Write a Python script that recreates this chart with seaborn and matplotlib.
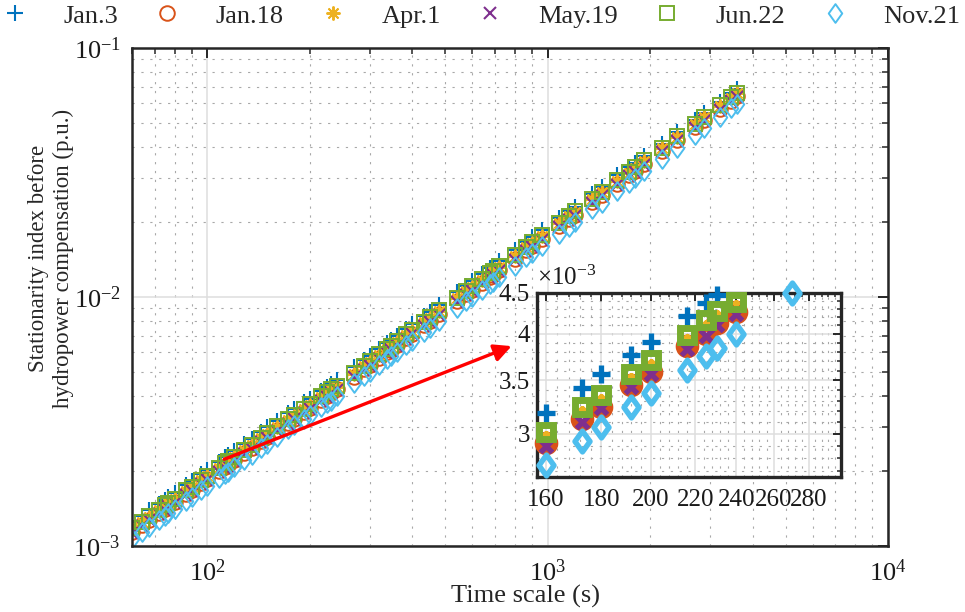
import numpy as np
import pandas as pd
import matplotlib
matplotlib.use("Agg")
import matplotlib.pyplot as plt
import seaborn as sns
from matplotlib.path import Path
from matplotlib.ticker import (LogLocator, FixedLocator, FixedFormatter,
                               MultipleLocator, NullFormatter)

# ---------------- data ----------------
time_scale = [60, 64, 67.5, 72, 75, 76.8, 80, 86.4, 90, 96,
              100, 108, 112.5, 115.2, 120, 128, 135, 144, 150, 160,
              172.8, 180, 192, 200, 216, 225, 230.4, 240, 270, 288,
              300, 320, 337.5, 345.6, 360, 384, 400, 432, 450, 480,
              540, 576, 600, 640, 675, 691.2, 720, 800, 864, 900,
              960, 1080, 1152, 1200, 1350, 1440, 1600, 1728, 1800, 1920,
              2160, 2400, 2700, 2880, 3200, 3456, 3600]

# values in units of 1e-3 p.u.
jan3 = [1.243, 1.319, 1.391, 1.476, 1.537, 1.574, 1.631, 1.761, 1.825, 1.947,
        2.017, 2.178, 2.268, 2.311, 2.407, 2.567, 2.692, 2.872, 2.992, 3.19,
        3.42, 3.56, 3.77, 3.91, 4.21, 4.37, 4.48, 4.64, 5.22, 5.59,
        5.82, 6.21, 6.55, 6.70, 6.99, 7.46, 7.76, 8.38, 8.73, 9.31,
        10.43, 11.12, 11.59, 12.36, 13.04, 13.35, 13.91, 15.45, 16.69, 17.38,
        18.54, 20.76, 22.15, 23.07, 25.95, 27.68, 30.76, 33.22, 34.60, 36.91,
        41.33, 45.92, 51.42, 54.85, 60.95, 65.83, 68.57]
jan18 = [1.140, 1.210, 1.276, 1.354, 1.410, 1.444, 1.496, 1.616, 1.674, 1.786,
         1.850, 1.998, 2.081, 2.120, 2.208, 2.355, 2.470, 2.635, 2.745, 2.92,
         3.13, 3.24, 3.45, 3.59, 3.86, 4.00, 4.13, 4.26, 4.79, 5.13,
         5.34, 5.70, 6.01, 6.15, 6.41, 6.84, 7.12, 7.69, 8.01, 8.54,
         9.61, 10.25, 10.68, 11.39, 12.02, 12.30, 12.82, 14.24, 15.38, 16.02,
         17.09, 19.22, 20.51, 21.36, 24.03, 25.63, 28.48, 30.76, 32.04, 34.18,
         38.45, 42.72, 48.06, 51.26, 56.96, 61.52, 64.08]
apr1 = [1.172, 1.244, 1.312, 1.392, 1.449, 1.484, 1.538, 1.661, 1.721, 1.836,
        1.902, 2.054, 2.139, 2.179, 2.270, 2.421, 2.539, 2.709, 2.822, 3.00,
        3.22, 3.34, 3.54, 3.69, 3.97, 4.13, 4.25, 4.37, 4.92, 5.27,
        5.49, 5.86, 6.18, 6.32, 6.59, 7.03, 7.32, 7.91, 8.23, 8.78,
        9.88, 10.54, 10.98, 11.71, 12.36, 12.64, 13.18, 14.64, 15.81, 16.47,
        17.57, 19.76, 21.08, 21.96, 24.70, 26.35, 29.28, 31.62, 32.94, 35.14,
        39.53, 43.92, 49.41, 52.70, 58.56, 63.24, 65.87]
may19 = [1.132, 1.202, 1.267, 1.345, 1.400, 1.434, 1.486, 1.605, 1.662, 1.773,
         1.837, 1.984, 2.066, 2.105, 2.193, 2.339, 2.453, 2.617, 2.726, 2.90,
         3.10, 3.23, 3.43, 3.56, 3.83, 3.98, 4.10, 4.24, 4.76, 5.09,
         5.30, 5.66, 5.97, 6.11, 6.37, 6.79, 7.07, 7.64, 7.95, 8.48,
         9.54, 10.18, 10.61, 11.31, 11.94, 12.21, 12.73, 14.14, 15.27, 15.91,
         16.97, 19.09, 20.37, 21.21, 23.86, 25.45, 28.28, 30.54, 31.82, 33.94,
         38.18, 42.42, 47.72, 50.90, 56.56, 61.09, 63.63]
jun22 = [1.179, 1.251, 1.319, 1.400, 1.458, 1.493, 1.547, 1.671, 1.731, 1.847,
         1.913, 2.066, 2.152, 2.192, 2.283, 2.435, 2.554, 2.725, 2.838, 3.02,
         3.24, 3.36, 3.56, 3.71, 3.99, 4.16, 4.27, 4.39, 4.95, 5.30,
         5.52, 5.89, 6.21, 6.36, 6.63, 7.07, 7.36, 7.95, 8.28, 8.83,
         9.94, 10.60, 11.04, 11.78, 12.43, 12.72, 13.26, 14.72, 15.90, 16.56,
         17.67, 19.87, 21.21, 22.09, 24.85, 26.50, 29.45, 31.81, 33.13, 35.34,
         39.76, 44.17, 49.69, 53.00, 58.90, 63.61, 66.26]
nov21 = [1.069, 1.135, 1.197, 1.270, 1.323, 1.354, 1.403, 1.516, 1.570, 1.675,
         1.735, 1.874, 1.952, 1.989, 2.071, 2.209, 2.317, 2.472, 2.575, 2.74,
         2.94, 3.06, 3.24, 3.37, 3.61, 3.75, 3.84, 4.00, 4.50, 4.81,
         5.01, 5.35, 5.64, 5.77, 6.01, 6.42, 6.68, 7.21, 7.51, 8.01,
         9.01, 9.61, 10.02, 10.68, 11.27, 11.54, 12.03, 13.36, 14.43, 15.03,
         16.03, 17.97, 19.18, 19.97, 22.47, 23.96, 26.63, 28.76, 29.96, 31.96,
         35.76, 39.73, 44.70, 47.67, 52.97, 57.21, 59.59]

series_names = ["Jan.3", "Jan.18", "Apr.1", "May.19", "Jun.22", "Nov.21"]
series_vals = [jan3, jan18, apr1, may19, jun22, nov21]
colors = ["#0072BD", "#D95319", "#EDB120", "#7E2F8E", "#77AC30", "#4DBEEE"]

inset_xticks = [160, 180, 200, 220, 240, 260, 280]
inset_yticks = [3.0, 3.5, 4.0, 4.5]
arrow_start = (112, 2.23e-3)
arrow_end = (783, 6.35e-3)

df = pd.concat([pd.DataFrame({"t": time_scale,
                              "v": np.array(v) * 1e-3,
                              "date": n})
                for n, v in zip(series_names, series_vals)],
               ignore_index=True)

# ---------------- style ----------------
sns.set_theme(style="white")
plt.rcParams["font.family"] = ["Liberation Serif", "DejaVu Serif"]
plt.rcParams["mathtext.fontset"] = "custom"
plt.rcParams["mathtext.rm"] = "Liberation Serif"
plt.rcParams["mathtext.it"] = "Liberation Serif:italic"
plt.rcParams["axes.unicode_minus"] = True

diamond = Path([(0, 1), (0.72, 0), (0, -1), (-0.72, 0), (0, 1)],
               [Path.MOVETO, Path.LINETO, Path.LINETO, Path.LINETO, Path.CLOSEPOLY])
asterisk = (8, 2, 0)
markers = ["+", "o", asterisk, "x", "s", diamond]
main_ms = [12, 10.5, 10, 8, 9.8, 13.5]
main_mew = [1.5, 1.4, 1.4, 1.5, 1.4, 1.4]
ins_ms = [12.5, 10.5, 4, 9, 10, 15]
ins_mew = [3.8, 6.5, 2.8, 3.8, 5.0, 3.9]

fs = 19
spine_c = "#262626"
fig = plt.figure(figsize=(9.65, 6.12), dpi=100)
ax = fig.add_axes([132 / 965, 1 - 546 / 612, (888 - 132) / 965, (546 - 48) / 612])


def style_axes(a, lw):
    for s in a.spines.values():
        s.set_visible(True)
        s.set_color(spine_c)
        s.set_linewidth(lw)
    a.tick_params(which="both", direction="in", top=True, right=True,
                  color=spine_c, labelcolor="#1a1a1a")
    a.grid(True, which="major", color="#dedede", lw=1.1, ls="-")
    a.grid(True, which="minor", color="#a8a8a8", lw=0.8, ls=(0, (2, 6)))
    a.set_axisbelow(True)


for name, m, c, ms, mew in zip(series_names, markers, colors, main_ms, main_mew):
    sns.lineplot(data=df[df["date"] == name], x="t", y="v", ax=ax,
                 linestyle="none", marker=m, markersize=ms,
                 markerfacecolor="none", markeredgecolor=c,
                 markeredgewidth=mew, color=c, errorbar=None, legend=False)

ax.set_xscale("log")
ax.set_yscale("log")
ax.set_xlim(60, 1e4)
ax.set_ylim(1e-3, 1e-1)
ax.xaxis.set_major_locator(LogLocator(base=10, numticks=10))
ax.xaxis.set_minor_locator(LogLocator(base=10, subs=np.arange(2, 10), numticks=30))
ax.yaxis.set_minor_locator(LogLocator(base=10, subs=np.arange(2, 10), numticks=30))
ax.xaxis.set_minor_formatter(NullFormatter())
ax.yaxis.set_minor_formatter(NullFormatter())
style_axes(ax, 1.8)
ax.tick_params(which="major", length=7, width=1.4, labelsize=fs)
ax.tick_params(which="minor", length=4, width=1.1)
ax.tick_params(axis="x", which="major", pad=10)
ax.tick_params(axis="y", which="major", pad=8)

ax.set_xlabel("Time scale (s)", fontsize=fs)
ax.set_ylabel("Stationarity index before\nhydropower compensation (p.u.)",
              fontsize=16.5, linespacing=1.25)
ax.xaxis.set_label_coords(0.521, -0.078)
ax.yaxis.set_label_coords(-0.077, 0.578)

ax.annotate("", xy=arrow_end, xytext=arrow_start,
            arrowprops=dict(arrowstyle="-|>", color="red", lw=2.4,
                            mutation_scale=26, shrinkA=0, shrinkB=0),
            zorder=10)

handles = list(ax.lines[:6])
fig.legend(handles, series_names, loc="upper left", bbox_to_anchor=(-0.004, 1.002),
           ncol=6, frameon=False, fontsize=fs, handlelength=1.0,
           handletextpad=1.35, columnspacing=1.35, borderpad=0.2,
           borderaxespad=0.0)

# ---------------- inset ----------------
axi = fig.add_axes([537 / 965, 1 - 477 / 612, (841 - 537) / 965, (477 - 293) / 612])
axi.set_facecolor("white")
ylo, yhi = 2.65e-3, 4.5e-3
xlo, xhi = 157, 300
sub = df[(df["t"] >= xlo) & (df["t"] <= xhi) & (df["v"] <= yhi * 1.001) & (df["v"] >= ylo)]
for name, m, c, ms, mew in zip(series_names, markers, colors, ins_ms, ins_mew):
    sns.lineplot(data=sub[sub["date"] == name], x="t", y="v", ax=axi,
                 linestyle="none", marker=m, markersize=ms,
                 markerfacecolor="none", markeredgecolor=c,
                 markeredgewidth=mew, color=c, errorbar=None, legend=False,
                 clip_on=False, zorder=5)
axi.set_xscale("log")
axi.set_yscale("log")
axi.set_xlim(xlo, xhi)
axi.set_ylim(ylo, yhi)
axi.xaxis.set_major_locator(FixedLocator(inset_xticks))
axi.xaxis.set_major_formatter(FixedFormatter([str(v) for v in inset_xticks]))
axi.xaxis.set_minor_locator(MultipleLocator(4))
axi.xaxis.set_minor_formatter(NullFormatter())
axi.yaxis.set_major_locator(FixedLocator([v * 1e-3 for v in inset_yticks]))
axi.yaxis.set_major_formatter(FixedFormatter(["3", "3.5", "4", "4.5"]))
axi.yaxis.set_minor_locator(MultipleLocator(0.1e-3))
axi.yaxis.set_minor_formatter(NullFormatter())
style_axes(axi, 2.4)
axi.tick_params(which="major", length=6, width=1.4, labelsize=18)
axi.tick_params(which="minor", length=3, width=1.1)
axi.tick_params(axis="x", which="major", pad=9)
axi.tick_params(axis="y", which="major", pad=5)
axi.set_xlabel("")
axi.set_ylabel("")
axi.text(0.0, 1.015, "×10$^{-3}$", transform=axi.transAxes, fontsize=18,
         ha="left", va="bottom", color="#1a1a1a")

fig.savefig("out.png", dpi=100)
